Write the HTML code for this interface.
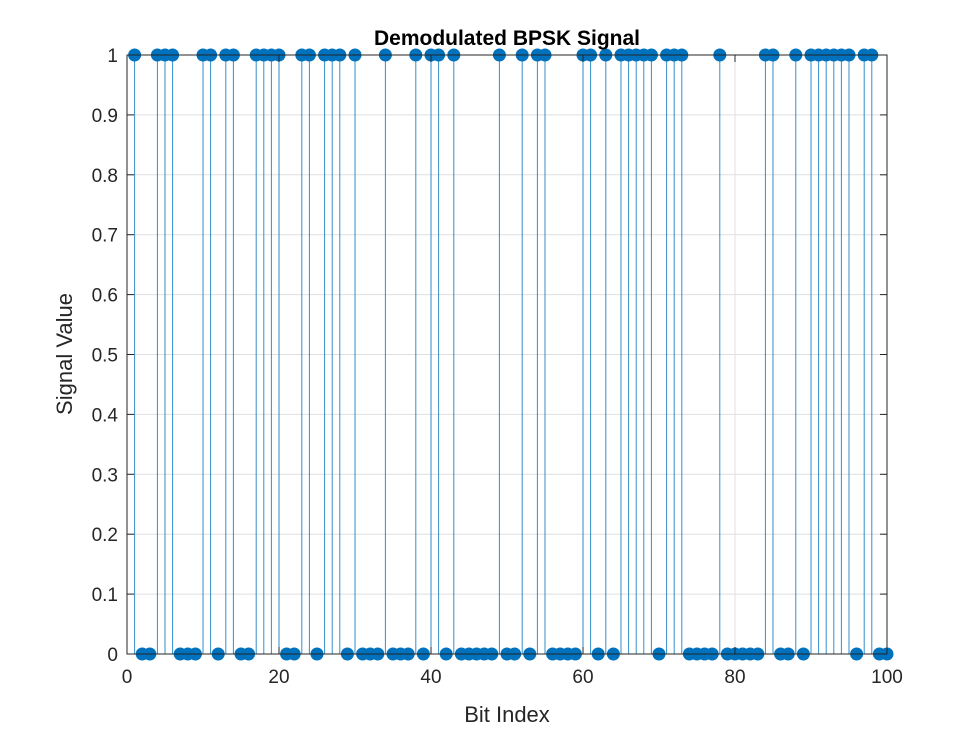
<!DOCTYPE html>
<html><head><meta charset="utf-8"><style>
html,body{margin:0;padding:0;background:#fff;}
svg text{font-family:"Liberation Sans",Arial,sans-serif;fill:#262626;}
</style></head><body>
<svg id="chart" width="980" height="735" xmlns="http://www.w3.org/2000/svg">
<g id="grid"></g>
<g id="stems"></g>
<rect x="127" y="55" width="760" height="599" fill="none" stroke="#262626" stroke-width="1"/>
<g id="ticks"></g>
<text x="507" y="45" text-anchor="middle" font-size="21" font-weight="bold" style="fill:#000">Demodulated BPSK Signal</text>
<text x="507" y="722" text-anchor="middle" font-size="22">Bit Index</text>
<text transform="translate(72,354) rotate(-90)" text-anchor="middle" font-size="22">Signal Value</text>
</svg>
<script>
const onesIdx = [1,4,5,6,10,11,13,14,17,18,19,20,23,24,26,27,28,30,34,38,40,41,43,49,52,54,55,60,61,63,65,66,67,68,69,71,72,73,78,84,85,88,90,91,92,93,94,95,97,98];
const bitIndex = Array.from({length:100},(_,i)=>i+1);
const signalValues = bitIndex.map(i=>onesIdx.includes(i)?1:0);
const xTicks = [0,20,40,60,80,100];
const yTicks = [0,0.1,0.2,0.3,0.4,0.5,0.6,0.7,0.8,0.9,1];
const yTickLabels = ["0","0.1","0.2","0.3","0.4","0.5","0.6","0.7","0.8","0.9","1"];
const NS="http://www.w3.org/2000/svg";
const X0=127,X1=887,Y0=654,Y1=55;
const sx=v=>X0+(v-0)/(100-0)*(X1-X0);
const sy=v=>Y0-(v-0)/(1-0)*(Y0-Y1);
function mk(tag,attrs,parent){const e=document.createElementNS(NS,tag);for(const k in attrs)e.setAttribute(k,attrs[k]);parent.appendChild(e);return e;}
const grid=document.getElementById('grid'),ticks=document.getElementById('ticks'),stems=document.getElementById('stems');
xTicks.forEach(t=>{
  const g=mk('line',{x1:sx(t),x2:sx(t),y1:Y1,y2:Y0,stroke:'#dfdfdf','stroke-width':1},grid);
  
  
  mk('line',{x1:sx(t),x2:sx(t),y1:Y0,y2:Y0-7,stroke:'#262626'},ticks);
  mk('line',{x1:sx(t),x2:sx(t),y1:Y1,y2:Y1+7,stroke:'#262626'},ticks);
  const l=mk('text',{x:sx(t),y:Y0+29,'text-anchor':'middle','font-size':19},ticks);
  l.textContent=t;
  
  
});
yTicks.forEach((t,i)=>{
  const g=mk('line',{x1:X0,x2:X1,y1:sy(t),y2:sy(t),stroke:'#dfdfdf','stroke-width':1},grid);
  
  
  mk('line',{x1:X0,x2:X0+7,y1:sy(t),y2:sy(t),stroke:'#262626'},ticks);
  mk('line',{x1:X1,x2:X1-7,y1:sy(t),y2:sy(t),stroke:'#262626'},ticks);
  const l=mk('text',{x:X0-9,y:sy(t)+7,'text-anchor':'end','font-size':19},ticks);
  l.textContent=yTickLabels[i];
  
  
});
bitIndex.forEach((b,i)=>{
  const v=signalValues[i];
  const ln=mk('line',{x1:sx(b),x2:sx(b),y1:sy(0),y2:sy(v),stroke:'#0072BD','stroke-width':1,'stroke-opacity':0.8},stems);
  
  
});
bitIndex.forEach((b,i)=>{
  const c=mk('circle',{cx:sx(b),cy:sy(signalValues[i]),r:6.5,fill:'#0072BD'},stems);
  
  
});
</script>
</body></html>
